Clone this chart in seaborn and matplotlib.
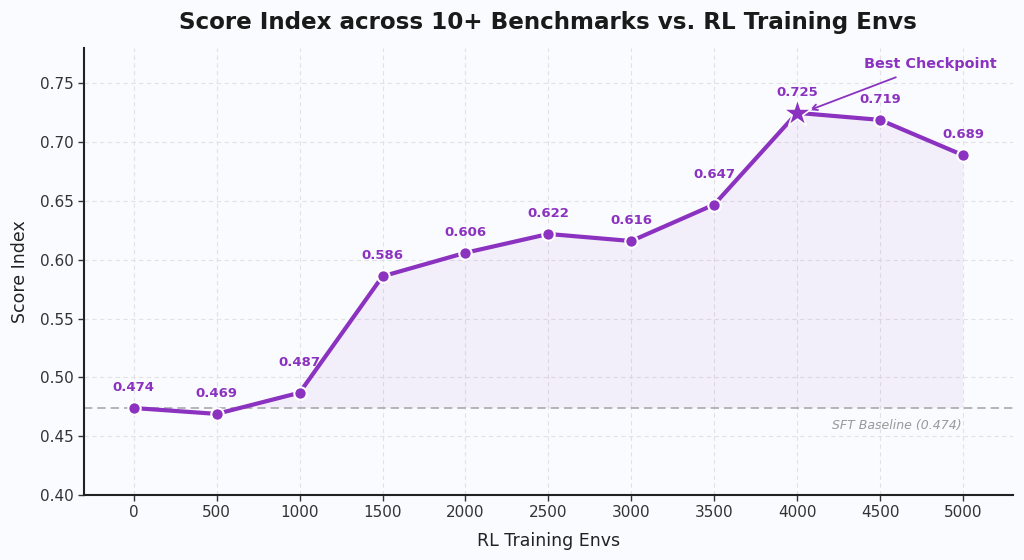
import matplotlib
matplotlib.use("Agg")
import matplotlib.pyplot as plt
import seaborn as sns
import numpy as np
import pandas as pd

envs = [0, 500, 1000, 1500, 2000, 2500, 3000, 3500, 4000, 4500, 5000]
scores = [0.474, 0.469, 0.487, 0.586, 0.606, 0.622, 0.616, 0.647, 0.725, 0.719, 0.689]
baseline = 0.474
best_idx = 8

purple = "#8B32C0"
# extra label lift (points) for labels that sit on steep segments
label_lift = {2: 7, 7: 7}

sns.set_theme(style="white")
plt.rcParams['font.family'] = ['DejaVu Sans']

df = pd.DataFrame({"envs": envs, "score": scores})

fig = plt.figure(figsize=(10.24, 5.6), dpi=100, facecolor="#fafbfe")
ax = fig.add_axes([0.082, 0.116, 0.907, 0.798])
ax.set_facecolor("#fafbfe")

x = np.array(envs, dtype=float)
y = np.array(scores)
ax.fill_between(x, y, baseline, where=y >= baseline, interpolate=True,
                color=purple, alpha=0.06, linewidth=0, zorder=1)

ax.axhline(baseline, color="#aaaaaa", linestyle=(0, (5, 3)), linewidth=1.2, zorder=2)

sns.lineplot(data=df, x="envs", y="score", ax=ax, color=purple, linewidth=3, zorder=3)
mask = np.arange(len(envs)) != best_idx
ax.scatter(x[mask], y[mask], s=80, color=purple, edgecolor="white", linewidth=1.5, zorder=4)
ax.scatter([x[best_idx]], [y[best_idx]], s=450, marker="*", color=purple,
           edgecolor="white", linewidth=1.2, zorder=5)

for i, (xi, yi) in enumerate(zip(envs, scores)):
    ax.annotate(f"{yi:.3f}", (xi, yi), xytext=(0, 10 + label_lift.get(i, 0)),
                textcoords="offset points",
                ha="center", va="bottom", fontsize=9.5, fontweight="bold", color=purple)

ax.annotate("Best Checkpoint", xy=(4060, 0.7265), xytext=(4805, 0.7665),
            ha="center", va="center", fontsize=10.4, fontweight="bold", color=purple,
            arrowprops=dict(arrowstyle="->", color=purple, lw=1.3, shrinkA=6))

ax.text(4600, 0.4595, f"SFT Baseline ({baseline})", ha="center", va="center",
        fontsize=9, style="italic", color="#999999")

ax.set_xlim(-300, 5300)
ax.set_ylim(0.40, 0.78)
ax.set_xticks(envs)
ax.set_yticks([0.40, 0.45, 0.50, 0.55, 0.60, 0.65, 0.70, 0.75])
ax.yaxis.set_major_formatter(matplotlib.ticker.FormatStrFormatter("%.2f"))
ax.tick_params(axis="both", labelsize=11, colors="#333333", length=4, width=1, direction="out", bottom=True, left=True)
ax.grid(True, linestyle=(0, (4, 3)), color="#e2e2e6", linewidth=0.8)
ax.set_axisbelow(True)

for s in ["top", "right"]:
    ax.spines[s].set_visible(False)
for s in ["left", "bottom"]:
    ax.spines[s].set_color("#222222")
    ax.spines[s].set_linewidth(1.5)

ax.set_xlabel("RL Training Envs", fontsize=12.5, color="#222222", labelpad=8)
ax.set_ylabel("Score Index", fontsize=12.5, color="#222222", labelpad=8)
ax.set_title("Score Index across 10+ Benchmarks vs. RL Training Envs", fontsize=16.6,
             fontweight="bold", color="#1a1a1a", pad=14)

fig.savefig("out.png", dpi=100, facecolor=fig.get_facecolor())
